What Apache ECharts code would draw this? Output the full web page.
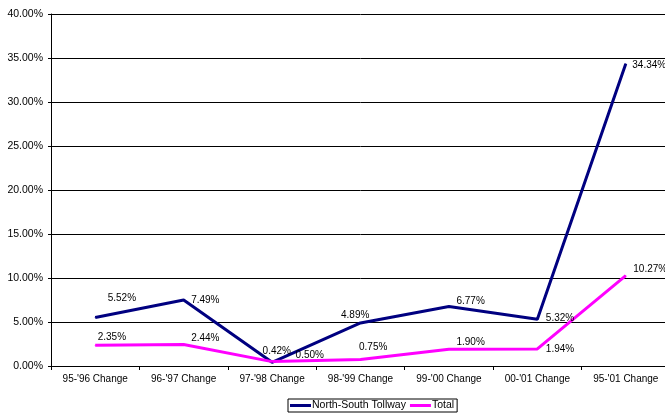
<!DOCTYPE html>
<html>
<head>
<meta charset="utf-8">
<script src="https://cdn.jsdelivr.net/npm/echarts@6/dist/echarts.min.js"></script>
<style>
  html, body { margin: 0; padding: 0; background: #fff; overflow: hidden; }
  /* plot runs a few px past the right edge in the original, so the canvas does too */
  #chart { width: 670px; height: 414px; }
</style>
</head>
<body>
<div id="chart"></div>
<script>
// Chart data
const categories = ["95-'96 Change", "96-'97 Change", "97-'98 Change", "98-'99 Change", "99-'00 Change", "00-'01 Change", "95-'01 Change"];
const tollway = [5.52, 7.49, 0.42, 4.89, 6.77, 5.32, 34.34];
const total = [2.35, 2.44, 0.50, 0.75, 1.90, 1.94, 10.27];
const yTicks = { min: 0, max: 40, step: 5 };

// label nudges, copied from where Excel dropped them
const tollwayLabelShift = [[12, -19], [7, 0], [-10, -11], [-20, -8], [7, -5], [8, -1], [6, 1]];
const totalLabelShift = [[2, -8], [7, -6], [23, -6], [-2, -12], [7, -7], [8, 0], [7, -6]];

const FONT = 'Liberation Sans, Arial, sans-serif';

function withLabels(values, shifts) {
	return values.map((v, i) => ({
		value: v,
		label: { offset: shifts[i] },
	}));
}

function lineSeries(name, values, shifts, color) {
	return {
		name: name,
		type: 'line',
		data: withLabels(values, shifts),
		symbol: 'circle',
		symbolSize: 1,
		lineStyle: { color: color, width: 3 },
		itemStyle: { color: color },
		label: {
			show: true,
			position: 'right',
			distance: 0,
			color: '#000',
			fontFamily: FONT,
			fontSize: 10,
			formatter: (p) => p.value.toFixed(2) + '%',
		},
		emphasis: { disabled: true },
		animation: false,
	};
}

const chart = echarts.init(document.getElementById('chart'), undefined, { renderer: 'canvas' });

chart.setOption({
	backgroundColor: '#fff',
	textStyle: { fontFamily: FONT },
	grid: { left: 51, top: 14, right: 0, height: 352 },
	legend: {
		left: 288,
		top: 399,
		data: ['North-South Tollway', 'Total'],
		icon: 'rect',
		itemWidth: 21,
		itemHeight: 3,
		itemGap: 4,
		padding: [1, 3, 1, 2],
		borderColor: '#000',
		borderWidth: 1,
		textStyle: { color: '#000', fontSize: 10.5, fontFamily: FONT, padding: [0, 0, 0, -4] },
	},
	xAxis: {
		type: 'category',
		data: categories,
		boundaryGap: true,
		axisLine: { lineStyle: { color: '#000', width: 1 } },
		axisTick: { show: true, length: 4, inside: false, lineStyle: { color: '#000' } },
		axisLabel: { color: '#000', fontSize: 10, fontFamily: FONT, margin: 8, interval: 0 },
	},
	yAxis: {
		type: 'value',
		min: yTicks.min,
		max: yTicks.max,
		interval: yTicks.step,
		axisLine: { show: true, lineStyle: { color: '#000', width: 1 } },
		axisTick: { show: true, length: 3, lineStyle: { color: '#000' } },
		splitLine: { lineStyle: { color: '#000', width: 1 } },
		axisLabel: {
			color: '#000',
			fontSize: 10.5,
			fontFamily: FONT,
			margin: 8,
			formatter: (v) => v.toFixed(2) + '%',
		},
	},
	series: [
		lineSeries('North-South Tollway', tollway, tollwayLabelShift, '#000080'),
		lineSeries('Total', total, totalLabelShift, '#FF00FF'),
	],
});

window.addEventListener('resize', () => chart.resize());
</script>
</body>
</html>
